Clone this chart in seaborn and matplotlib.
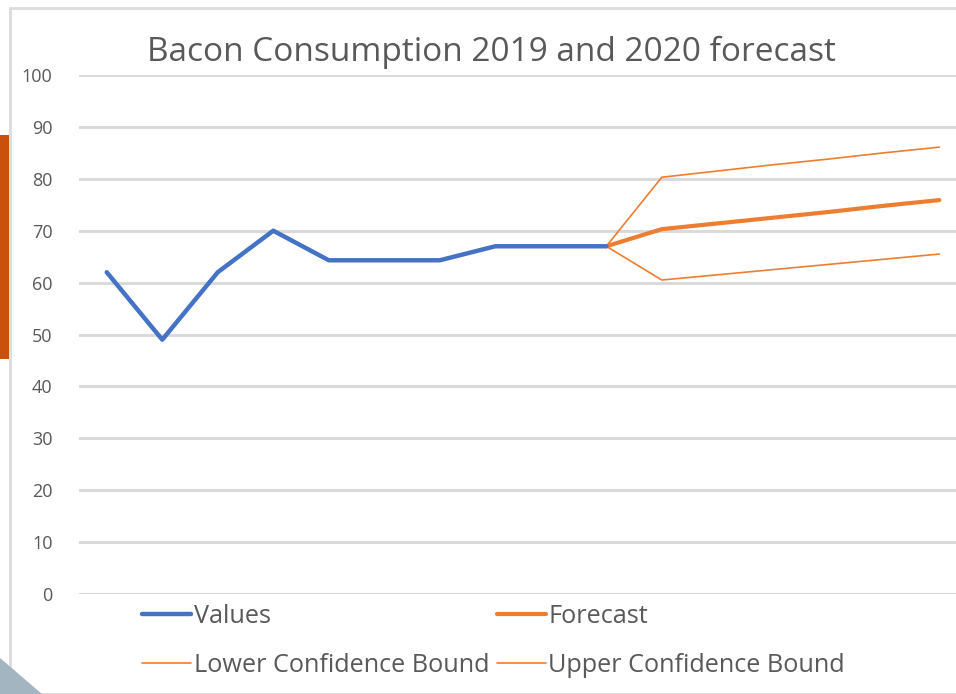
import matplotlib.pyplot as plt
import matplotlib.patches as mpatches
import numpy as np
import pandas as pd
import seaborn as sns

# observed values (periods 0-9), then forecast with confidence bounds (periods 9-15)
value_x = list(range(10))
values = [62, 49, 62, 70, 64.3, 64.3, 64.3, 67, 67, 67]

forecast_x = list(range(9, 16))
forecast = [67, 70.3, 71.4, 72.5, 73.6, 74.8, 75.9]
lower_bound = [67, 60.5, 61.5, 62.5, 63.5, 64.5, 65.5]
upper_bound = [67, 80.3, 81.5, 82.7, 83.8, 85.0, 86.1]

y_ticks = [0, 10, 20, 30, 40, 50, 60, 70, 80, 90, 100]

blue = '#4472C4'
orange = '#ED7D31'

sns.set_style('white')
plt.rcParams['font.family'] = ['Open Sans', 'DejaVu Sans']

W, H = 956, 694
fig = plt.figure(figsize=(W / 100, H / 100), dpi=100)

# slide decorations around the chart
fig.patches.append(mpatches.Rectangle((10 / W, 0), 1.2, 1 - 8 / H, transform=fig.transFigure,
                                      facecolor='none', edgecolor='#dcdcdc', lw=2, zorder=0))
fig.patches.append(mpatches.Rectangle((0, 1 - 359 / H), 9 / W, 224 / H, transform=fig.transFigure,
                                      facecolor='#C9510C', edgecolor='none', zorder=1))
fig.patches.append(mpatches.Polygon([(0, 1 - 658 / H), (42 / W, 0), (0, 0)], closed=True,
                                    transform=fig.transFigure, facecolor='#A3B5C0',
                                    edgecolor='none', zorder=1))

ax = fig.add_axes([79 / W, 1 - 594 / H, 1 - 79 / W, 519 / H])
ax.set_facecolor('none')

df_values = pd.DataFrame({'x': value_x, 'y': values})
df_fc = pd.DataFrame({'x': forecast_x, 'forecast': forecast,
                      'lower': lower_bound, 'upper': upper_bound})

sns.lineplot(data=df_values, x='x', y='y', color=blue, lw=3.2, ax=ax, label='Values', zorder=4)
sns.lineplot(data=df_fc, x='x', y='lower', color=orange, lw=1.2, ax=ax,
             label='Lower Confidence Bound', zorder=3)
sns.lineplot(data=df_fc, x='x', y='forecast', color=orange, lw=3.0, ax=ax,
             label='Forecast', zorder=3)
sns.lineplot(data=df_fc, x='x', y='upper', color=orange, lw=1.2, ax=ax,
             label='Upper Confidence Bound', zorder=3)

ax.set_xlim(-0.5, 15.3)
ax.set_ylim(0, 100)
ax.set_yticks(y_ticks)
ax.set_xticks([])
ax.set_xlabel('')
ax.set_ylabel('')
ax.grid(axis='y', color='#dadada', lw=2.2)
ax.tick_params(axis='y', length=0, labelsize=13, labelcolor='#595959', pad=19)
for s in ax.spines.values():
    s.set_visible(False)

handles, labels = ax.get_legend_handles_labels()
ax.get_legend().remove()
order = [labels.index(l) for l in ['Values', 'Lower Confidence Bound', 'Forecast', 'Upper Confidence Bound']]
leg = fig.legend([handles[i] for i in order], [labels[i] for i in order],
                 loc='upper left', bbox_to_anchor=(119 / W, 1 - 581 / H), ncol=2,
                 frameon=False, fontsize=18.2, handlelength=1.95, handletextpad=0.1,
                 columnspacing=0.3, labelspacing=0.95, labelcolor='#595959')

fig.text(491 / W, 1 - 52 / H, 'Bacon Consumption 2019 and 2020 forecast',
         ha='center', va='center', fontsize=24, color='#595959')

fig.savefig('out.png', dpi=100)
